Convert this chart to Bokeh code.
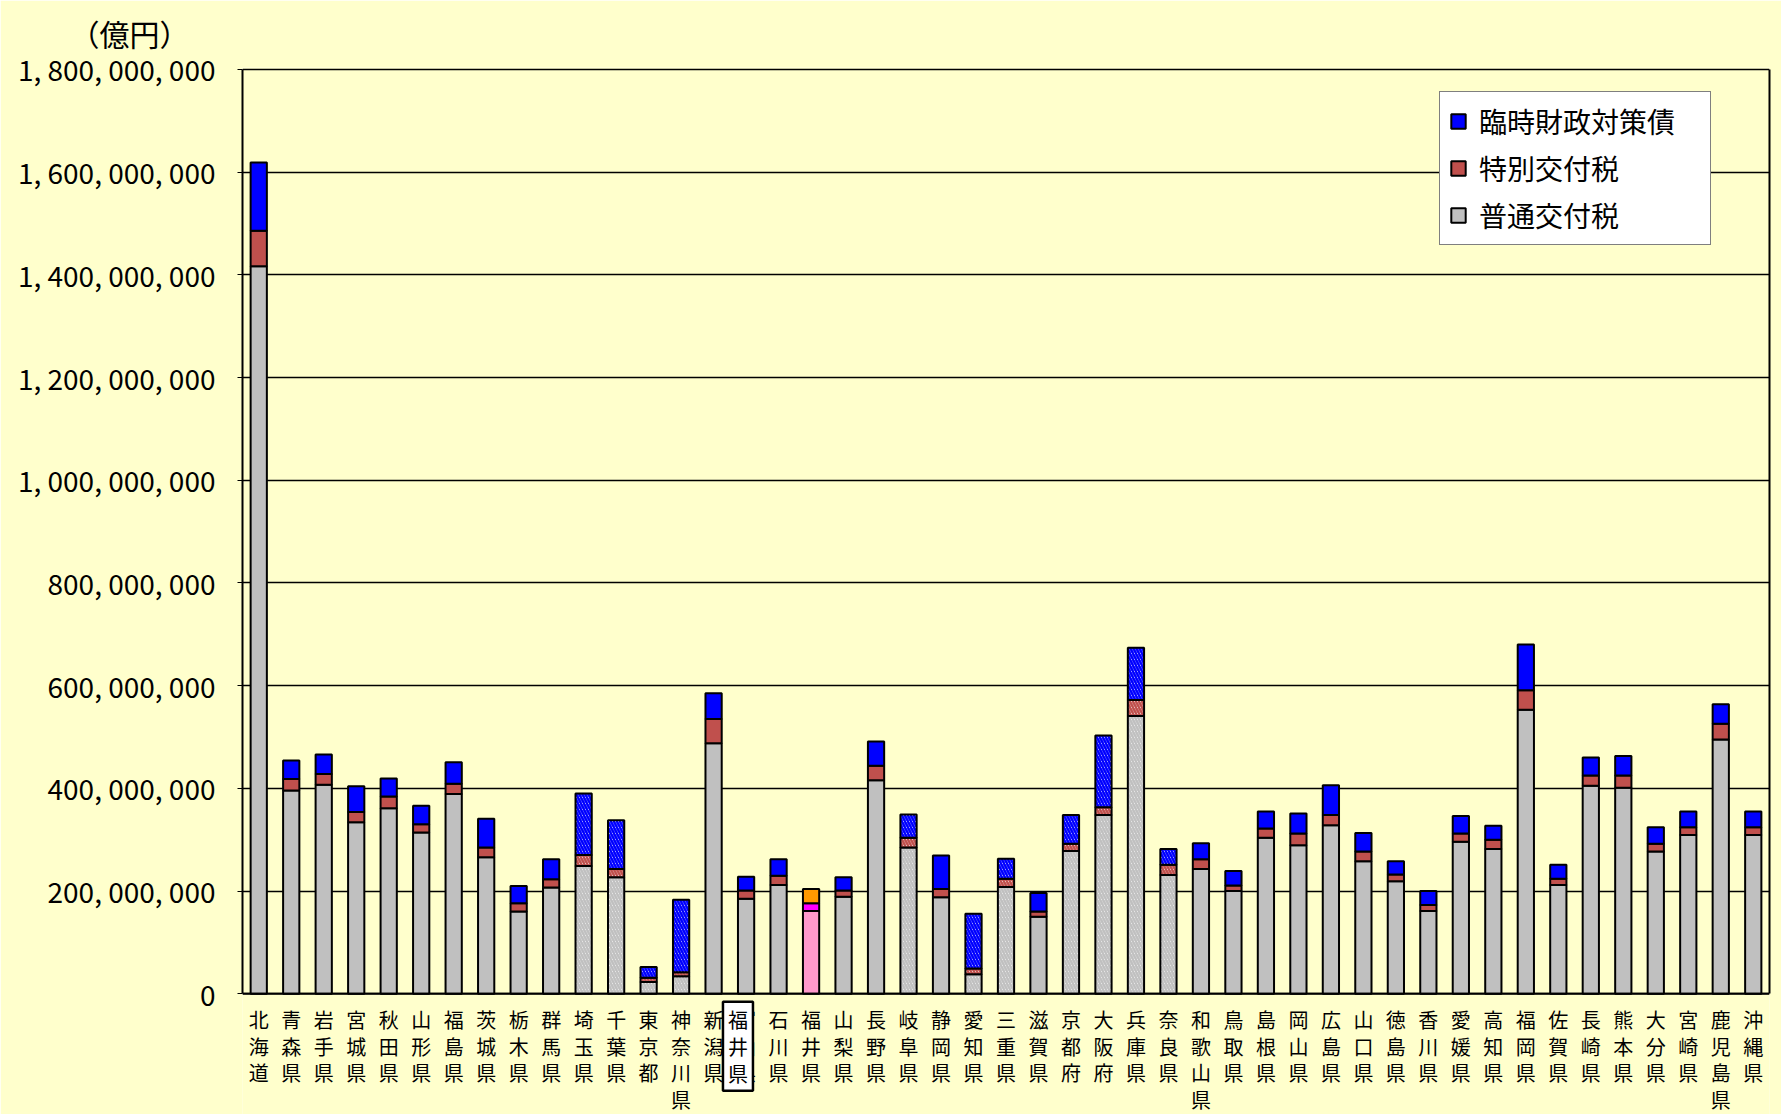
from bokeh.plotting import figure
from bokeh.models import (ColumnDataSource, FactorRange, Range1d, FixedTicker,
                          Legend, LegendItem, Label, Span, LinearAxis, Title)
from bokeh.core.properties import value
from bokeh.embed import file_html
from bokeh.resources import INLINE

# ---------------- data ----------------
prefs = ["北海道", "青森県", "岩手県", "宮城県", "秋田県", "山形県", "福島県", "茨城県",
         "栃木県", "群馬県", "埼玉県", "千葉県", "東京都", "神奈川県", "新潟県", "富山県",
         "石川県", "福井県", "山梨県", "長野県", "岐阜県", "静岡県", "愛知県", "三重県",
         "滋賀県", "京都府", "大阪府", "兵庫県", "奈良県", "和歌山県", "鳥取県", "島根県",
         "岡山県", "広島県", "山口県", "徳島県", "香川県", "愛媛県", "高知県", "福岡県",
         "佐賀県", "長崎県", "熊本県", "大分県", "宮崎県", "鹿児島県", "沖縄県"]

# 普通交付税
futsu = [1417e6, 396e6, 407e6, 334e6, 361e6, 314e6, 389e6, 266e6,
         160e6, 207e6, 249e6, 227e6, 23e6, 34e6, 488e6, 185e6,
         212e6, 161e6, 189e6, 416e6, 285e6, 188e6, 38e6, 208e6,
         150e6, 278e6, 348e6, 541e6, 231e6, 243e6, 200e6, 304e6,
         289e6, 328e6, 258e6, 219e6, 161e6, 296e6, 282e6, 553e6,
         212e6, 405e6, 401e6, 277e6, 309e6, 495e6, 309e6]
# 特別交付税
tokubetsu = [69e6, 22e6, 21e6, 20e6, 23e6, 16e6, 20e6, 19e6,
             16e6, 16e6, 21e6, 16e6, 8e6, 8e6, 47e6, 16e6,
             18e6, 15e6, 12e6, 28e6, 19e6, 16e6, 11e6, 16e6,
             10e6, 14e6, 15e6, 31e6, 20e6, 19e6, 11e6, 18e6,
             23e6, 20e6, 19e6, 13e6, 12e6, 16e6, 18e6, 38e6,
             12e6, 20e6, 24e6, 15e6, 15e6, 31e6, 15e6]
# 臨時財政対策債
rinji = [133e6, 36e6, 38e6, 50e6, 35e6, 36e6, 42e6, 56e6,
         34e6, 39e6, 120e6, 95e6, 21e6, 141e6, 50e6, 27e6,
         32e6, 28e6, 26e6, 47e6, 45e6, 65e6, 107e6, 39e6,
         36e6, 56e6, 140e6, 102e6, 31e6, 31e6, 28e6, 33e6,
         39e6, 58e6, 36e6, 26e6, 27e6, 34e6, 27e6, 89e6,
         27e6, 35e6, 38e6, 32e6, 31e6, 38e6, 31e6]

series_names = ["普通交付税", "特別交付税", "臨時財政対策債"]
hatched_prefs = ["埼玉県", "千葉県", "東京都", "神奈川県", "岐阜県", "愛知県", "三重県",
                 "京都府", "大阪府", "兵庫県", "奈良県"]
highlight_pref = "福井県"
boxed_label = "福井県"
y_unit = "（億円）"
y_ticks = [0, 200e6, 400e6, 600e6, 800e6, 1000e6, 1200e6, 1400e6, 1600e6, 1800e6]

# ---------------- layout / styles ----------------
BG = "#FFFFCC"
FONT = "Noto Sans CJK JP"
base_colors = ["#C0C0C0", "#C0504D", "#0000FF"]
hi_colors = ["#FF99CC", "#FF00FF", "#FF9900"]

W, H = 1781, 1114
LEFT, RIGHT = 242, 12
TOP_LINE, BASE_LINE = 67, 993          # pixel rows of the top value and of zero
FRAME_TOP, FRAME_BOTTOM = 65, 1114
ROW1, ROW_PITCH = 26, 26.5             # category label rows below the zero line
px = y_ticks[-1] / (BASE_LINE - TOP_LINE)          # value per pixel
y_end = y_ticks[-1] + (TOP_LINE - FRAME_TOP) * px
y_start = -(FRAME_BOTTOM - BASE_LINE) * px

p = figure(x_range=FactorRange(*prefs, range_padding=0),
           y_range=Range1d(y_start, y_end),
           width=W, height=H, x_axis_location=None,
           output_backend="svg", toolbar_location=None,
           background_fill_color=BG, border_fill_color=BG,
           min_border_left=LEFT, min_border_right=RIGHT,
           min_border_top=FRAME_TOP, min_border_bottom=H - FRAME_BOTTOM)

p.outline_line_color = None
p.xgrid.grid_line_color = None
p.ygrid.ticker = FixedTicker(ticks=y_ticks)
p.ygrid.grid_line_color = "black"
p.ygrid.grid_line_width = 1.6

# stacked bars
bottom = [0.0] * len(prefs)
renderers = []
for k, vals in enumerate([futsu, tokubetsu, rinji]):
    top = [b + v for b, v in zip(bottom, vals)]
    fills, hatches = [], []
    for name in prefs:
        if name == highlight_pref:
            fills.append(hi_colors[k]); hatches.append(" ")
        elif name in hatched_prefs:
            fills.append("white"); hatches.append("\\")
        else:
            fills.append(base_colors[k]); hatches.append(" ")
    src = ColumnDataSource(dict(pref=prefs, top=top, bottom=bottom,
                                fill=fills, hatch=hatches))
    r = p.vbar(x="pref", top="top", bottom="bottom", width=0.5, source=src,
               fill_color="fill", hatch_pattern="hatch",
               hatch_color=base_colors[k], hatch_weight=2.5, hatch_scale=6,
               line_color="black", line_width=2)
    renderers.append(r)
    bottom = top

# zero line
p.add_layout(Span(location=0, dimension="width", line_color="black", line_width=2.2))

# left axis
p.yaxis.ticker = FixedTicker(ticks=y_ticks)
p.yaxis.bounds = (0, y_ticks[-1])
p.yaxis.major_label_overrides = {t: f"{int(t):,}".replace(",", ", ") for t in y_ticks}
p.yaxis.major_label_text_font = FONT
p.yaxis.major_label_text_font_size = "28px"
p.yaxis.major_label_text_color = "black"
p.yaxis.major_tick_out = 5
p.yaxis.major_tick_in = 0
p.yaxis.minor_tick_line_color = None
p.yaxis.axis_line_color = "black"
p.yaxis.axis_line_width = 2
p.yaxis.major_tick_line_color = "black"
p.yaxis.major_label_standoff = 22

# right frame edge
right_axis = LinearAxis(ticker=FixedTicker(ticks=[]), bounds=(0, y_ticks[-1]),
                        axis_line_color="black", axis_line_width=2,
                        major_tick_line_color=None, minor_tick_line_color=None)
p.add_layout(right_axis, "right")

# category labels, one character per row
lab_x, lab_t, lab_off = [], [], []
for name in prefs:
    for i, ch in enumerate(name):
        lab_x.append(name); lab_t.append(ch); lab_off.append(ROW1 + ROW_PITCH * i)
lab_src = ColumnDataSource(dict(x=lab_x, y=[0] * len(lab_x), t=lab_t, yo=lab_off))
p.text(x="x", y="y", text="t", y_offset="yo", source=lab_src,
       text_font=value(FONT), text_font_size=value("20px"),
       text_align="center", text_baseline="middle", text_color="black")

# boxed overlay label
p.add_layout(Label(x=15.25, y=0, y_offset=-(ROW1 + ROW_PITCH), text="\n".join(boxed_label),
                   text_font=FONT, text_font_size="20px",
                   text_line_height=0.93,
                   text_align="center", text_baseline="middle",
                   text_color="black",
                   background_fill_color="white",
                   border_line_color="black", border_line_width=2.5,
                   padding=dict(left=5, right=5, top=3, bottom=3)))

# unit title
p.title = Title(text=y_unit, align="left", offset=-173, standoff=21,
                vertical_align="top",
                text_font=FONT, text_font_size="30px", text_font_style="normal",
                text_color="black")

legend = Legend(items=[LegendItem(label=series_names[2], renderers=[renderers[2]], index=0),
                       LegendItem(label=series_names[1], renderers=[renderers[1]], index=0),
                       LegendItem(label=series_names[0], renderers=[renderers[0]], index=0)],
                location=(1197, FRAME_BOTTOM - 245),
                label_text_font=FONT, label_text_font_size="28px",
                label_text_color="black",
                glyph_width=18, glyph_height=18, label_height=40, label_width=222,
                label_standoff=12, spacing=7, padding=9, margin=0,
                border_line_color="black", border_line_width=1.5,
                background_fill_color="white", background_fill_alpha=1)
p.add_layout(legend)

open("out.html", "w").write(file_html(p, INLINE))
